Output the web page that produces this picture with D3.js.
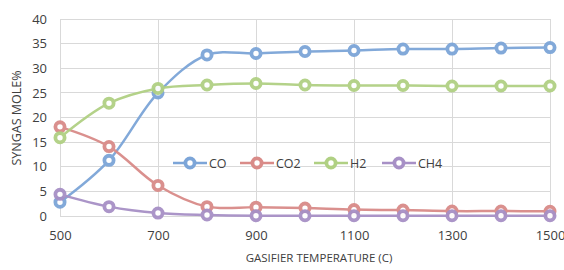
<!DOCTYPE html>
<html><head><meta charset="utf-8">
<script src="https://cdn.jsdelivr.net/npm/d3@7/dist/d3.min.js"></script>
<style>body{margin:0;background:#fff}svg{display:block}text{font-family:"Open Sans",sans-serif;fill:#404040}</style>
</head><body><svg id="c" width="564" height="270"></svg>
<script>
const temps = [500,600,700,800,900,1000,1100,1200,1300,1400,1500];
const co  = [2.8,11.3,25.0,32.7,33.0,33.4,33.6,33.9,33.9,34.1,34.2];
const co2 = [18.1,14.1,6.2,1.9,1.8,1.6,1.3,1.2,1.0,1.0,0.95];
const h2  = [15.9,22.9,25.9,26.6,26.9,26.6,26.5,26.5,26.4,26.4,26.4];
const ch4 = [4.4,1.9,0.6,0.2,0.05,0.05,0.05,0.05,0.05,0.05,0.05];
const seriesNames = ["CO","CO2","H2","CH4"];
const seriesData = [co,co2,h2,ch4];
const colors = ["#7ca5d8","#d98b88","#b0d083","#a790c6"];
const xTicks = [500,700,900,1100,1300,1500];
const yTicks = [0,5,10,15,20,25,30,35,40];

const svg = d3.select("#c");
const x = d3.scaleLinear().domain([500,1500]).range([60,550]);
const y = d3.scaleLinear().domain([0,40]).range([216,19]);

const grid = svg.append("g");
grid.selectAll(".h").data(yTicks).join("line")
  .attr("x1",60).attr("x2",550).attr("y1",d=>y(d)).attr("y2",d=>y(d))
  .attr("stroke","#d9d9d9").attr("stroke-width",1).attr("shape-rendering","crispEdges");
grid.selectAll(".v").data(xTicks).join("line")
  .attr("x1",d=>x(d)).attr("x2",d=>x(d)).attr("y1",19).attr("y2",216)
  .attr("stroke","#d9d9d9").attr("stroke-width",1).attr("shape-rendering","crispEdges");

const yAxis = svg.append("g").attr("transform","translate(60,0)")
  .call(d3.axisLeft(y).tickValues(yTicks).tickSize(0).tickPadding(13));
const xAxis = svg.append("g").attr("transform","translate(0,216)")
  .call(d3.axisBottom(x).tickValues(xTicks).tickSize(0).tickPadding(15).tickFormat(d3.format("d")));
[yAxis,xAxis].forEach(a=>{a.select(".domain").remove();a.selectAll("text").attr("font-size",13).attr("fill","#404040").attr("font-family","Open Sans");});

svg.append("text").attr("x",319).attr("y",262).attr("text-anchor","middle").attr("font-size",11.5).text("GASIFIER TEMPERATURE (C)");
svg.append("text").attr("transform","translate(21,118) rotate(-90)").attr("text-anchor","middle").attr("font-size",12.5).text("SYNGAS MOLE%");

const line = d3.line().x((d,i)=>x(temps[i])).y(d=>y(d)).curve(d3.curveCatmullRom.alpha(0.5));
seriesData.forEach((s,k)=>{
  const g = svg.append("g").attr("opacity",0.95);
  g.append("path").attr("d",line(s)).attr("fill","none").attr("stroke",colors[k]).attr("stroke-width",2.5);
  g.selectAll("circle").data(s).join("circle")
    .attr("cx",(d,i)=>x(temps[i])).attr("cy",d=>y(d)).attr("r",4.6)
    .attr("fill","#fff").attr("stroke",colors[k]).attr("stroke-width",3.8);
});

const legX = [173,240,314,382];
const leg = svg.append("g");
seriesNames.forEach((n,k)=>{
  const lx = legX[k], ly = 163;
  leg.append("line").attr("x1",lx).attr("x2",lx+34).attr("y1",ly).attr("y2",ly).attr("stroke",colors[k]).attr("stroke-width",2.5);
  leg.append("circle").attr("cx",lx+17).attr("cy",ly).attr("r",4.6).attr("fill","#fff").attr("stroke",colors[k]).attr("stroke-width",3.8);
  leg.append("text").attr("x",lx+36).attr("y",ly+4.5).attr("font-size",12.5).text(n);
});
</script></body></html>
